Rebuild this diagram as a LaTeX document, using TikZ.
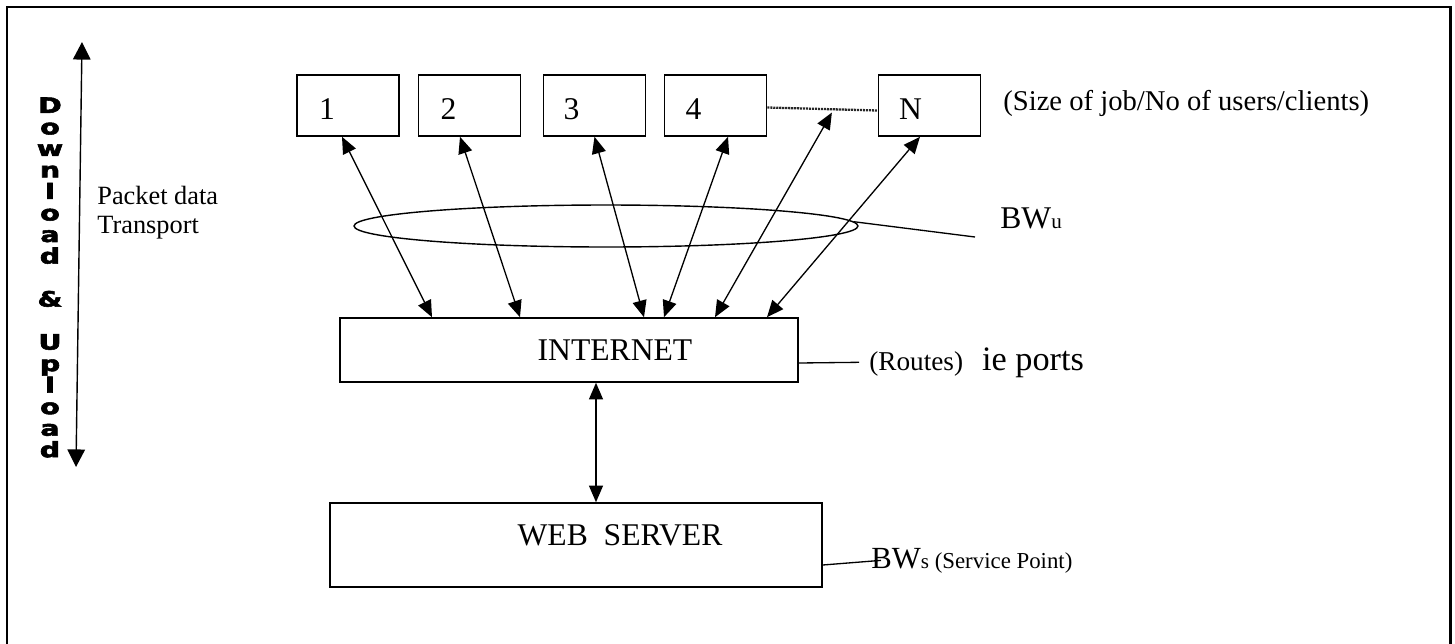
\documentclass[tikz,border=0pt]{standalone}
\usepackage{fontspec}
\setmainfont{Liberation Serif}
\newfontfamily\blockfont{DejaVu Sans}[BoldFeatures={FakeBold=2.5}]
\usetikzlibrary{arrows.meta,calc,shapes.geometric}
\tikzset{
	client/.style={draw, line width=0.9pt, minimum width=2.04cm, minimum height=1.22cm, inner sep=0pt},
	hub/.style={draw, line width=0.9pt, inner sep=0pt},
	link/.style={<->, line width=0.75pt},
	lead/.style={line width=0.75pt},
	txt/.style={inner sep=0pt}
}
\begin{document}
\begin{tikzpicture}[x=0.02cm, y=-0.02cm, >={Triangle[length=9.5pt,width=8pt]}, font=\fontsize{18}{20}\selectfont]
		\def\W{1455} \def\H{643}
		\useasboundingbox (0,0) rectangle (\W,\H);
		\clip (0,0) rectangle (\W,\H);
		\draw[line width=1.7pt] (7,\H+20) -- (7,7) -- (1450,7) -- (1450,\H+20);
		% clients
		\node[client, label={[xshift=-0.42cm,yshift=-0.08cm]center:1}] (c1) at (348,105.5) {};
		\node[client, label={[xshift=-0.42cm,yshift=-0.08cm]center:2}] (c2) at (469.5,105.5) {};
		\node[client, label={[xshift=-0.46cm,yshift=-0.08cm]center:3}] (c3) at (594.5,105.5) {};
		\node[client, label={[xshift=-0.44cm,yshift=-0.08cm]center:4}] (c4) at (715.5,105.5) {};
		\node[client, label={[xshift=-0.38cm,yshift=-0.08cm]center:N}] (cN) at (929.5,105.5) {};
		\draw[dash pattern=on 1.2pt off 0.5pt, line width=1.3pt, black!85] ($(c4.east)+(0,2)$) -- ($(cN.west)+(0,5)$);
		\coordinate (gap) at ($(c4.east)!0.585!(cN.west)+(0,7)$);
		\node[txt, anchor=base west, font=\fontsize{16.3}{18}\selectfont] (size) at (1003,110) {(Size of job/No of users/clients)};
		% internet and server
		\node[hub, minimum width=9.16cm, minimum height=1.28cm, label={[xshift=0.92cm]center:INTERNET}] (net) at (569,350) {};
		\node[hub, minimum width=9.84cm, minimum height=1.68cm, label={[xshift=0.88cm,yshift=0.2cm]center:WEB\ \ SERVER}] (srv) at (576,545) {};
		\node[draw, ellipse, line width=0.8pt, minimum width=10.08cm, minimum height=0.84cm, inner sep=0pt] (bwu) at (606,226) {};
		\draw[link] ($(c1.south)+(-6,0)$) -- ($(net.north)+(-137,0)$);
		\draw[link] ($(c2.south)+(-9.5,0)$) -- ($(net.north)+(-49,0)$);
		\draw[link] (c3.south) -- ($(net.north)+(75,0)$);
		\draw[link] ($(c4.south)+(12.5,0)$) -- ($(net.north)+(95,0)$);
		\draw[link] (gap) -- ($(net.north)+(146,0)$);
		\draw[link] ($(cN.south)+(-9.5,0)$) -- ($(net.north)+(198,0)$);
		\draw[link] ($(net.south)+(27,0)$) -- ($(srv.north)+(20,0)$);
		% side labels
		\coordinate (bwuend) at (975,237);
		\draw[lead] (bwu.1) -- (bwuend);
		\node[txt, anchor=base west] (bwulab) at (1000,228) {BW{\fontsize{12}{12}\selectfont u}};
		\node[anchor=base west, inner xsep=0.2cm, inner ysep=0pt, font=\fontsize{19.5}{20}\selectfont] (routes) at (859,370) {{\fontsize{15.5}{16}\selectfont(Routes)}\hspace{0.38cm}ie ports};
		\draw[lead] ($(net.east)+(0,13)$) -- (routes.west);
		\node[txt, anchor=base west, font=\fontsize{17.5}{18}\selectfont] (bws) at (871,568) {BW{\fontsize{12}{12}\selectfont s}{\fontsize{13}{14}\selectfont\ (Service Point)}};
		\draw[lead] ($(srv.east)+(0,20)$) -- ($(bws.west)+(10,0)$);
		% transport
		\coordinate (dtop) at (82,42);
		\coordinate (dbot) at (76,467);
		\draw[<->, >={Triangle[length=10pt,width=10pt]}, line width=0.8pt] (dbot) -- (dtop);
		\node[txt, align=center, xscale=1.35, transform shape, font=\blockfont\bfseries\fontsize{12}{12.25}\selectfont] (updown) at (50,277.5) {D\\o\\w\\n\\l\\o\\a\\d\\[12.25pt]\&\\[12.25pt]U\\p\\l\\o\\a\\d};
		\node[txt, anchor=north west, align=left, font=\fontsize{15}{16.4}\selectfont] (pkt) at (97,186) {Packet data\\Transport};
\end{tikzpicture}
\end{document}
